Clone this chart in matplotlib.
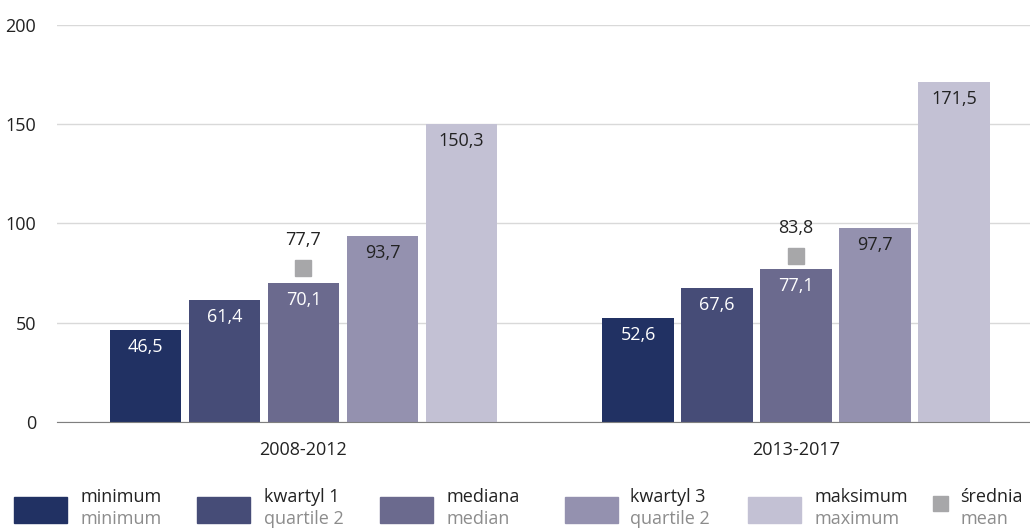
import matplotlib
matplotlib.use("Agg")
import matplotlib.pyplot as plt
from matplotlib.patches import Rectangle
import numpy as np

plt.rcParams['font.family'] = ['Open Sans', 'DejaVu Sans']

periods = ["2008-2012", "2013-2017"]
stat_pl = ["minimum", "kwartyl 1", "mediana", "kwartyl 3", "maksimum"]
stat_en = ["minimum", "quartile 2", "median", "quartile 2", "maximum"]
minimum = [46.5, 52.6]
kwartyl_1 = [61.4, 67.6]
mediana = [70.1, 77.1]
kwartyl_3 = [93.7, 97.7]
maksimum = [150.3, 171.5]
srednia = [77.7, 83.8]
yticks = [0, 50, 100, 150, 200]

series = [minimum, kwartyl_1, mediana, kwartyl_3, maksimum]
colors = ["#213163", "#464c77", "#6b6a8e", "#9491af", "#c3c1d4"]
label_colors = ["white", "white", "white", "#222222", "#222222"]
mean_color = "#a7a7a9"
FS = 13

W, H = 1030, 531
fig = plt.figure(figsize=(W / 100, H / 100), dpi=100)
ax = fig.add_axes([57 / W, (H - 422) / H, (W - 57) / W, (422 - 25) / H])

step = 0.1604
width = 0.1442
x = np.arange(len(periods))

def fmt(v):
    return f"{v:.1f}".replace(".", ",")

for i, (vals, c, lc) in enumerate(zip(series, colors, label_colors)):
    pos = x + (i - 2) * step
    ax.bar(pos, vals, width=width, color=c, zorder=3)
    for px, v in zip(pos, vals):
        ax.annotate(fmt(v), (px, v), xytext=(0, -12.3), textcoords="offset points",
                    ha="center", va="center", fontsize=FS, color=lc, zorder=4)

ax.plot(x, srednia, linestyle="none", marker="s", markersize=11.5,
        color=mean_color, zorder=5)
for px, v in zip(x, srednia):
    ax.annotate(fmt(v), (px, v), xytext=(0, 20), textcoords="offset points",
                ha="center", va="center", fontsize=FS, color="#222222")

ax.set_ylim(0, 200)
ax.set_xlim(-0.5005, (W - 303.5) / 492.5)
ax.set_yticks(yticks)
ax.set_yticklabels([str(t) for t in yticks], fontsize=FS, color="#222222")
ax.set_xticks(x)
ax.set_xticklabels(periods, fontsize=FS, color="#222222")
ax.tick_params(axis="both", length=0)
ax.tick_params(axis="y", pad=15)
ax.tick_params(axis="x", pad=14)
ax.yaxis.grid(True, color="#d9d9d9", linewidth=1, zorder=0)
for s in ["top", "right", "left"]:
    ax.spines[s].set_visible(False)
ax.spines["bottom"].set_color("#7f7f7f")
ax.spines["bottom"].set_zorder(4)

# legend drawn in figure pixels
box_x = [14, 197, 380, 565, 748]
text_x = [80, 264, 447, 630, 815]

def fy(py):
    return (H - py) / H

for bx, tx, c, pl, en in zip(box_x, text_x, colors, stat_pl, stat_en):
    fig.patches.append(Rectangle((bx / W, fy(523)), 53 / W, 26 / H,
                                 transform=fig.transFigure, color=c))
    fig.text(tx / W, fy(497), pl, fontsize=FS, color="#222222", va="center", ha="left")
    fig.text(tx / W, fy(519), en, fontsize=FS, color="#8c8c8c", va="center", ha="left")

fig.patches.append(Rectangle((933 / W, fy(511)), 15 / W, 15 / H,
                             transform=fig.transFigure, color=mean_color))
fig.text(960 / W, fy(497), "średnia", fontsize=FS, color="#222222", va="center", ha="left")
fig.text(960 / W, fy(519), "mean", fontsize=FS, color="#8c8c8c", va="center", ha="left")

fig.savefig("out.png", dpi=100)
